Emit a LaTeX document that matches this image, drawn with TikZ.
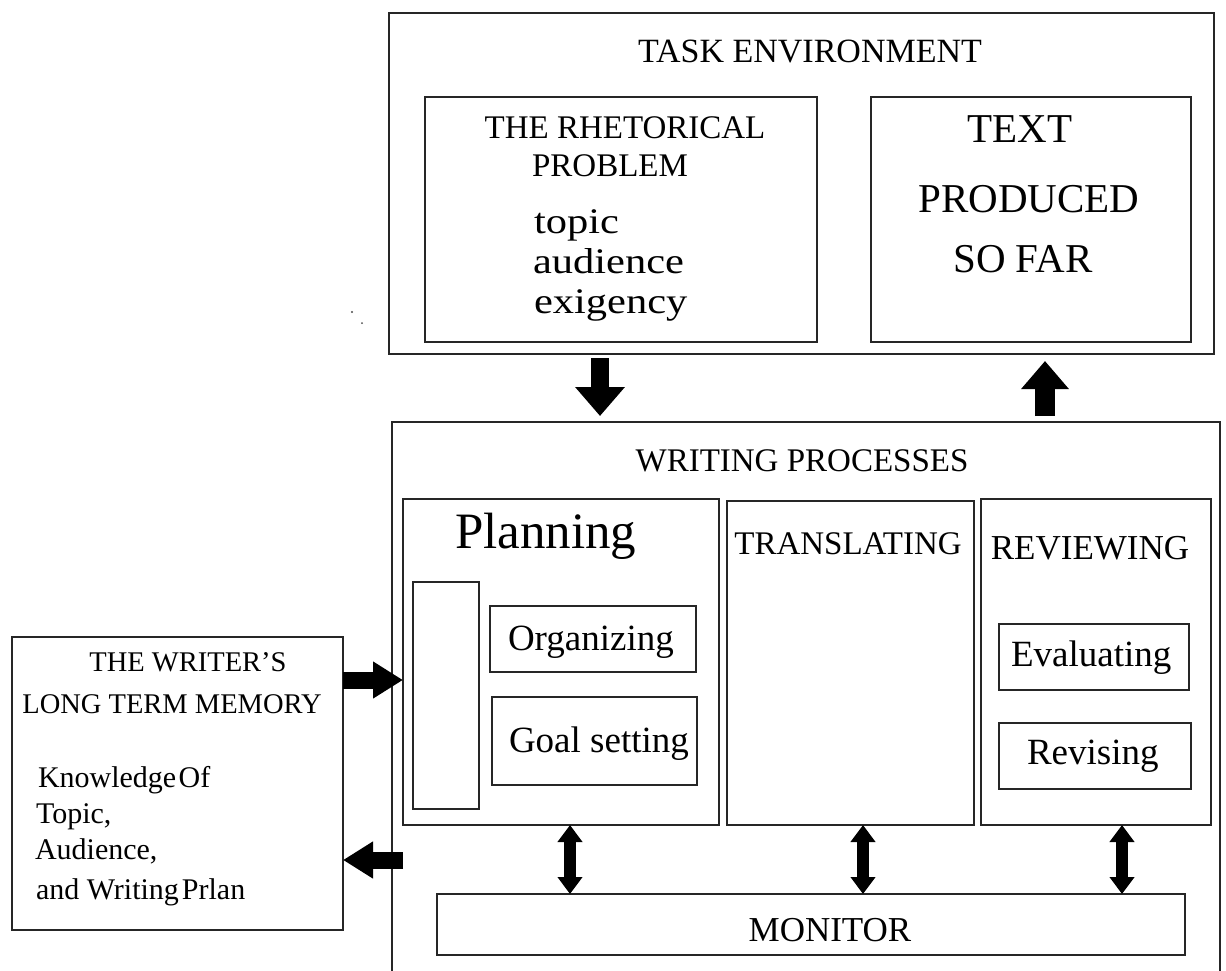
\documentclass[tikz,border=0pt]{standalone}
\usepackage{fontspec}
\setmainfont{Liberation Serif}
\usetikzlibrary{arrows.meta}

\tikzset{
  box/.style={draw=black!85, line width=1.3pt, rectangle, inner sep=0pt, outer sep=0pt},
  fs/.style={font=\fontsize{#1}{#1}\selectfont, inner sep=0pt, outer sep=0pt},
  lbl/.style={anchor=base},
  lblw/.style={anchor=base west},
  fatdown/.style={line width=18pt, -{Triangle[length=29pt,width=48pt]}},
  fatup/.style={line width=20pt, -{Triangle[length=28pt,width=46pt]}},
  fatside/.style={line width=17pt, -{Triangle[length=30pt,width=35pt]}},
  twoway/.style={line width=12pt, {Triangle[length=17pt,width=24pt]}-{Triangle[length=17pt,width=24pt]}}
}

\begin{document}
\begin{tikzpicture}[x=1pt, y=-1pt]
  \useasboundingbox (0,0) rectangle (1226,970);

  % ---- task environment ----
  \node[box, minimum width=825pt, minimum height=341pt] (te) at (801.5,183.5) {};
  \node[fs=34, lbl] (tet) at (810,62) {TASK ENVIRONMENT};
  \node[box, minimum width=392pt, minimum height=245pt] (rhet) at (621,219.5) {};
  \node[fs=33, lbl] (rh1) at (625,138) {THE RHETORICAL};
  \node[fs=33, lbl] (rh2) at (610,176) {PROBLEM};
  \node[fs=36, lblw, xscale=1.18] (rh3) at (534,233) {topic};
  \node[fs=36, lblw, xscale=1.18] (rh4) at (533,273) {audience};
  \node[fs=36, lblw, xscale=1.18] (rh5) at (534,313) {exigency};
  \node[box, minimum width=320pt, minimum height=245pt] (textp) at (1031,219.5) {};
  \node[fs=41, lbl] (tp1) at (1020,142) {TEXT};
  \node[fs=41, lbl] (tp2) at (1029,212) {PRODUCED};
  \node[fs=41, lbl] (tp3) at (1023,272) {SO FAR};

  % ---- writing processes (frame runs past the lower edge) ----
  \node[box, minimum width=828pt, minimum height=568pt] (wp) at (806,706) {};
  \node[fs=33, lbl] (wpt) at (802,471) {WRITING PROCESSES};

  % planning
  \node[box, minimum width=316pt, minimum height=326pt] (plan) at (561,662) {};
  \node[fs=51, lblw] (plant) at (455,548) {Planning};
  \node[box, minimum width=66pt, minimum height=227pt] (gen) at (446,695.5) {};
  \node[box, minimum width=206pt, minimum height=66pt] (org) at (593,639) {};
  \node[fs=37, lblw] (orgt) at (508,650) {Organizing};
  \node[box, minimum width=205pt, minimum height=88pt] (goal) at (594.5,741) {};
  \node[fs=37, lblw] (goalt) at (509,752) {Goal setting};

  % translating
  \node[box, minimum width=247pt, minimum height=324pt] (trans) at (850.5,663) {};
  \node[fs=33, lbl] (transt) at (848,554) {TRANSLATING};

  % reviewing
  \node[box, minimum width=230pt, minimum height=326pt] (rev) at (1096,662) {};
  \node[fs=35, lbl] (revt) at (1090,559) {REVIEWING};
  \node[box, minimum width=190pt, minimum height=66pt] (eval) at (1094,657) {};
  \node[fs=37, lblw] (evalt) at (1011,666) {Evaluating};
  \node[box, minimum width=192pt, minimum height=66pt] (revs) at (1095,756) {};
  \node[fs=37, lblw] (revst) at (1027,764) {Revising};

  % monitor
  \node[box, minimum width=748pt, minimum height=61pt] (mon) at (811,924.5) {};
  \node[fs=35, lbl] (mont) at (830,941) {MONITOR};

  % ---- long term memory ----
  \node[box, minimum width=331pt, minimum height=293pt] (ltm) at (177.5,783.5) {};
  \node[fs=28.5, lbl] (ltm1) at (188,671) {THE WRITER'S};
  \node[fs=28.5, lbl] (ltm2) at (172,713) {LONG TERM MEMORY};
  \node[fs=30, lblw] (ltm3) at (38,787) {Knowledge\hspace{0.08em}Of};
  \node[fs=30, lblw] (ltm4) at (36,823) {Topic,};
  \node[fs=30, lblw] (ltm5) at (35,859) {Audience,};
  \node[fs=30, lblw] (ltm6) at (36,899) {and Writing\hspace{0.1em}Prlan};

  % ---- connectors ----
  \coordinate (xdown) at (600,0);
  \coordinate (xup) at (1045,0);
  \coordinate (yin) at (0,680);
  \coordinate (yout) at (0,860);
  \coordinate (xa) at (570,0);
  \coordinate (xb) at (863,0);
  \coordinate (xc) at (1122,0);

  \draw[fatdown, shorten <=4pt, shorten >=6pt] (te.south -| xdown) -- (wp.north -| xdown);
  \draw[fatup, shorten <=6pt, shorten >=7pt] (wp.north -| xup) -- (te.south -| xup);
  \draw[fatside] (ltm.east |- yin) -- (plan.west |- yin);
  \draw[fatside] (plan.west |- yout) -- (ltm.east |- yout);
  \draw[twoway] (plan.south -| xa) -- (mon.north -| xa);
  \draw[twoway] (trans.south -| xb) -- (mon.north -| xb);
  \draw[twoway] (rev.south -| xc) -- (mon.north -| xc);

  % specks
  \fill[black!70] (352,312) circle (1.2pt) (362,323) circle (1pt);
\end{tikzpicture}
\end{document}
